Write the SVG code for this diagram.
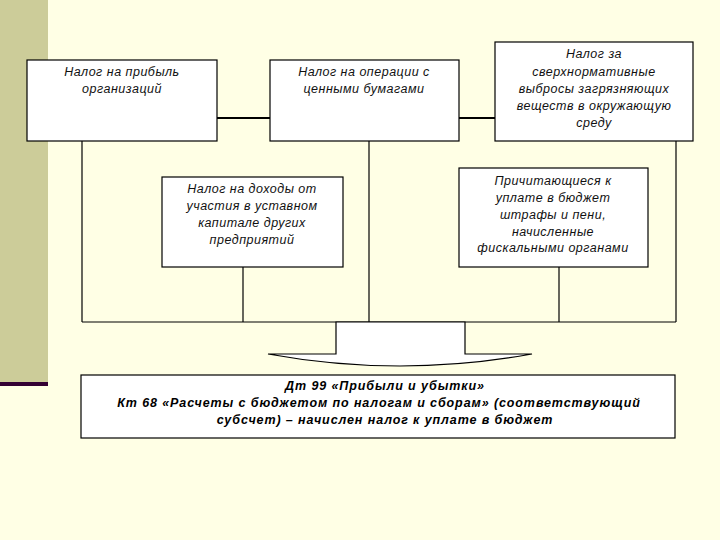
<svg xmlns="http://www.w3.org/2000/svg" width="720" height="540" viewBox="0 0 720 540">
<style>
.box{fill:#fff;stroke:#000;stroke-width:1.2}
.t{font-family:"Liberation Sans",Arial,sans-serif;font-style:italic;font-size:12.5px;letter-spacing:0.5px;fill:#111;text-anchor:middle}
.b{font-family:"Liberation Sans",Arial,sans-serif;font-style:italic;font-weight:bold;font-size:12.5px;letter-spacing:0.9px;fill:#000;text-anchor:middle}
.ln{stroke:#000;stroke-width:1.2;fill:none}
.thick{stroke:#000;stroke-width:2.2;fill:none}
</style>
<rect width="720" height="540" fill="#FFFFE5"/>
<rect x="0" y="0" width="48" height="382" fill="#CCCC99"/>
<rect x="0" y="382" width="48" height="4" fill="#330033"/>
<g id="connectors">
<line class="thick" x1="217" y1="118" x2="270" y2="118"/>
<line class="thick" x1="459" y1="118" x2="495" y2="118"/>
<line class="ln" x1="82" y1="141" x2="82" y2="322"/>
<line class="ln" x1="369" y1="141" x2="369" y2="322"/>
<line class="ln" x1="676" y1="141" x2="676" y2="322"/>
<line class="ln" x1="243" y1="267" x2="243" y2="322"/>
<line class="ln" x1="559" y1="267" x2="559" y2="322"/>
<line class="ln" x1="82" y1="322" x2="676" y2="322"/>
<path d="M336,322 L465,322 L465,354 L532,354 Q400,378 268,354 L336,354 Z" fill="#fff" stroke="#000" stroke-width="1.2"/>
</g>
<g id="n1">
<rect class="box" x="27" y="60" width="190" height="81"/>
<text class="t" x="122" y="76">Налог на прибыль</text>
<text class="t" x="122" y="93">организаций</text>
</g>
<g id="n2">
<rect class="box" x="270" y="60" width="189" height="81"/>
<text class="t" x="364" y="76">Налог на операции с</text>
<text class="t" x="364" y="93">ценными бумагами</text>
</g>
<g id="n3">
<rect class="box" x="495" y="42" width="198" height="99"/>
<text class="t" x="594" y="58">Налог за</text>
<text class="t" x="594" y="76">сверхнормативные</text>
<text class="t" x="594" y="93">выбросы загрязняющих</text>
<text class="t" x="594" y="110">веществ в окружающую</text>
<text class="t" x="594" y="127">среду</text>
</g>
<g id="n4">
<rect class="box" x="162" y="177" width="181" height="90"/>
<text class="t" x="252" y="193">Налог на доходы от</text>
<text class="t" x="252" y="210">участия в уставном</text>
<text class="t" x="252" y="227">капитале других</text>
<text class="t" x="252" y="244">предприятий</text>
</g>
<g id="n5">
<rect class="box" x="459" y="168" width="189" height="99"/>
<text class="t" x="553" y="185">Причитающиеся к</text>
<text class="t" x="553" y="202">уплате в бюджет</text>
<text class="t" x="553" y="219">штрафы и пени,</text>
<text class="t" x="553" y="236">начисленные</text>
<text class="t" x="553" y="252">фискальными органами</text>
</g>
<g id="n6">
<rect class="box" x="81" y="375" width="594" height="63"/>
<text class="b" x="385" y="390">Дт 99 «Прибыли и убытки»</text>
<text class="b" x="379" y="407">Кт 68 «Расчеты с бюджетом по налогам и сборам» (соответствующий</text>
<text class="b" x="385" y="424">субсчет) – начислен налог к уплате в бюджет</text>
</g>
</svg>
